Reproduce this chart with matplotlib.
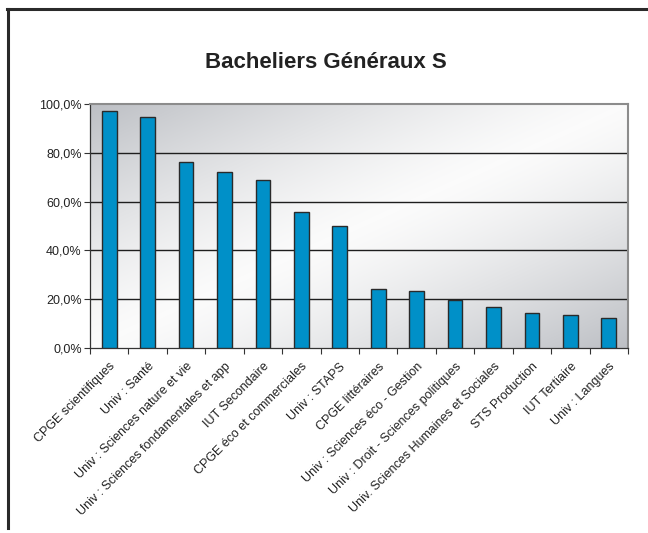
import numpy as np
import matplotlib
matplotlib.use("Agg")
import matplotlib.pyplot as plt
from matplotlib.lines import Line2D
from matplotlib.ticker import FuncFormatter

categories = [
    "CPGE scientifiques", "Univ : Santé", "Univ : Sciences nature et vie",
    "Univ : Sciences fondamentales et app", "IUT Secondaire",
    "CPGE éco et commerciales", "Univ : STAPS", "CPGE littéraires",
    "Univ : Sciences éco - Gestion", "Univ : Droit - Sciences politiques",
    "Univ. Sciences Humaines et Sociales", "STS Production", "IUT Tertiaire",
    "Univ : Langues",
]
values = [97.0, 94.5, 76.2, 72.3, 68.9, 55.9, 49.8, 24.1, 23.5, 19.5, 17.0, 14.2, 13.5, 12.1]
title = "Bacheliers Généraux S"
yticks = [0, 20, 40, 60, 80, 100]

plt.rcParams['font.family'] = ['Liberation Sans', 'DejaVu Sans']

W, H = 648, 533
fig = plt.figure(figsize=(W / 100, H / 100), dpi=100)
fig.patch.set_facecolor('white')

L, R, T, B = 90, 628, 104, 348
ax = fig.add_axes([L / W, 1 - B / H, (R - L) / W, (B - T) / H])

n = len(categories)
x = np.arange(n)

# gradient background
gx = np.linspace(0, 1, 300)
gy = np.linspace(0, 1, 200)
GX, GY = np.meshgrid(gx, gy)  # GY: 0 at top
t = (GX + GY) / 2.0
s = np.abs(2 * t - 1) ** 1.3
dark = np.array([0.74, 0.75, 0.77])
light = np.array([0.985, 0.985, 0.985])
img = light[None, None, :] + (dark - light)[None, None, :] * s[:, :, None]
ax.imshow(img, extent=[-0.5, n - 0.5, 0, 100], aspect='auto', origin='upper', zorder=0)

ax.set_xlim(-0.5, n - 0.5)
ax.set_ylim(0, 100)

for yv in yticks[1:-1]:
    ax.axhline(yv, color='#1e1e1e', lw=1.0, zorder=1)

ax.bar(x, values, width=0.38, color='#0090c8', edgecolor='#2a2a2a', linewidth=1.0, zorder=3)

ax.set_yticks(yticks)
ax.yaxis.set_major_formatter(FuncFormatter(lambda v, p: f"{v:.1f}%".replace('.', ',')))
ax.tick_params(axis='y', direction='out', length=4, width=0.8, color='#333333',
               labelsize=9, pad=2, labelcolor='#222222')

ax.set_xticks(np.arange(n + 1) - 0.5)
ax.set_xticklabels([])
ax.tick_params(axis='x', direction='out', length=4, width=0.8, color='#333333')
ax.set_xticks(x, minor=True)
ax.set_xticklabels(categories, minor=True, rotation=45, ha='right', va='top',
                   rotation_mode='anchor', fontsize=9, color='#222222')
ax.tick_params(axis='x', which='minor', length=0, pad=9)

for sp in ['top', 'right']:
    ax.spines[sp].set_color('#8c8c8c')
    ax.spines[sp].set_linewidth(1.5)
ax.spines['left'].set_color('#333333')
ax.spines['left'].set_linewidth(0.9)
ax.spines['bottom'].set_color('#333333')
ax.spines['bottom'].set_linewidth(0.9)

fig.text(326 / W, 1 - 62 / H, title, ha='center', va='center', fontsize=16,
         fontweight='bold', color='#222222')

# outer frame (partially visible)
fig.add_artist(Line2D([7 / W, 1.0], [1 - 9 / H, 1 - 9 / H], transform=fig.transFigure,
                      color='#2a2a2a', lw=2.2))
fig.add_artist(Line2D([8 / W, 8 / W], [1 - 9 / H, 1 - 528 / H], transform=fig.transFigure,
                      color='#2a2a2a', lw=2.2))

fig.savefig('out.png', dpi=100)
